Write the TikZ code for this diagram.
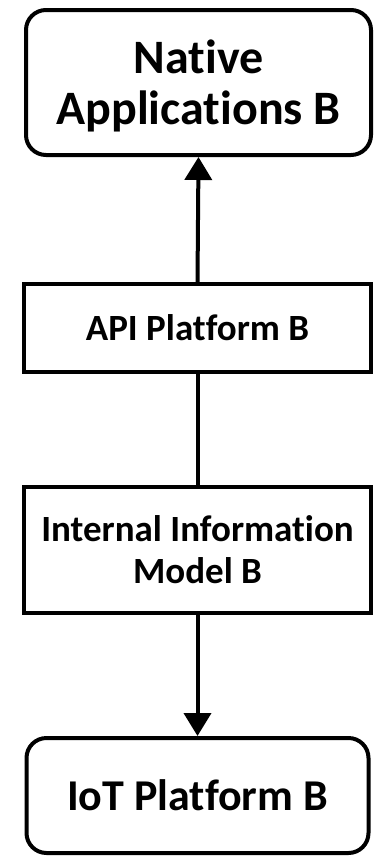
\documentclass[tikz,border=0pt]{standalone}
\usepackage{fontspec}
\setmainfont{Carlito}[RawFeature={-liga;-clig;-dlig;-calt}]
\usetikzlibrary{arrows.meta}
\begin{document}
\begin{tikzpicture}[x=1pt,y=1pt,
  box/.style={draw=black,line width=4pt,fill=white,align=center,inner sep=0pt,
    font=\bfseries},
  roundbox/.style={box,rounded corners=20pt},
  link/.style={line width=4pt,draw=black},
  tip/.style={-{Triangle[width=27pt,length=23pt]}}]
\useasboundingbox (0,0) rectangle (379,-857);
\node[roundbox,minimum width=345pt,minimum height=145pt,
  font=\bfseries\fontsize{48}{51}\selectfont] (native) at (198.5,-82.5)
  {\rule{0pt}{41pt}Native\\Applications B};
\node[box,minimum width=347pt,minimum height=88pt,
  font=\bfseries\fontsize{37}{44}\selectfont] (api) at (197.5,-328)
  {API Platform B};
\node[box,minimum width=347pt,minimum height=126pt,
  font=\bfseries\fontsize{37}{42}\selectfont] (iim) at (197.5,-550)
  {Internal Information\\Model B};
\node[roundbox,minimum width=342pt,minimum height=115pt,
  font=\bfseries\fontsize{44}{52}\selectfont] (iot) at (197.5,-795.5)
  {IoT Platform B};
\draw[link,tip] (api.north) -- (native.south);
\draw[link] (api.south) -- (iim.north);
\draw[link,tip] (iim.south) -- (iot.north);
\end{tikzpicture}
\end{document}
